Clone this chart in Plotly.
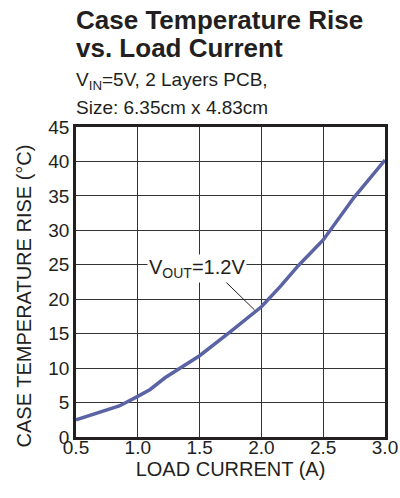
import plotly.graph_objects as go

load_current = [0.5, 0.85, 1.0, 1.1, 1.22, 1.36, 1.5, 1.75, 2.0, 2.15, 2.3, 2.5, 2.75, 3.0]
temp_rise = [2.5, 4.5, 5.9, 6.9, 8.6, 10.2, 11.8, 15.3, 18.9, 21.8, 24.9, 28.6, 34.8, 40.2]

x_ticks = [0.5, 1.0, 1.5, 2.0, 2.5, 3.0]
y_ticks = [0, 5, 10, 15, 20, 25, 30, 35, 40, 45]

FONT = "Arial, Liberation Sans, sans-serif"
TXT = "#231f20"

fig = go.Figure()
fig.add_trace(go.Scatter(x=load_current, y=temp_rise, mode="lines",
                         line=dict(color="#5a63a3", width=3.5),
                         showlegend=False, hoverinfo="skip"))

label_pos = (1.48, 24.4)
leader = (1.685, 22.97, 1.944, 18.46)
fig.add_shape(type="line", xref="x", yref="y", x0=leader[0], y0=leader[1], x1=leader[2], y1=leader[3],
              line=dict(color=TXT, width=1))
fig.add_annotation(x=label_pos[0], y=label_pos[1], xref="x", yref="y", text="V<sub>OUT</sub>=1.2V",
                   showarrow=False, bgcolor="white", font=dict(family=FONT, size=20, color=TXT),
                   borderpad=1)

def ann(text, y, size, bold=False):
    fig.add_annotation(x=-0.006, y=y, xref="paper", yref="paper", xanchor="left", yanchor="middle",
                       text=f"<b>{text}</b>" if bold else text, showarrow=False,
                       font=dict(family=FONT, size=size, color=TXT))

ann("Case Temperature Rise", 1.345, 26, True)
ann("vs. Load Current", 1.255, 26, True)
ann("V<sub>IN</sub>=5V, 2 Layers PCB,", 1.150, 19)
ann("Size: 6.35cm x 4.83cm", 1.062, 19)

# y-axis title placed as rotated text
fig.add_annotation(x=-0.170, y=0.455, xref="paper", yref="paper", xanchor="center", yanchor="middle",
                   text="CASE TEMPERATURE RISE (°C)", textangle=-90, showarrow=False,
                   font=dict(family=FONT, size=20, color=TXT))

axis_common = dict(showgrid=True, gridcolor="#333333", gridwidth=1, showline=True, linecolor="#231f20",
                   linewidth=2.5, mirror=True, ticks="", zeroline=False, automargin=False,
                   tickfont=dict(family=FONT, size=19, color=TXT))

fig.update_xaxes(range=[0.5, 3.0], tickvals=x_ticks, ticktext=[f"{v:.1f}" for v in x_ticks],
                 ticklabelstandoff=-9,
                 title=dict(text="LOAD CURRENT (A)", font=dict(family=FONT, size=20, color=TXT), standoff=2),
                 **axis_common)
fig.update_yaxes(range=[0, 45], tickvals=y_ticks, **axis_common)

fig.update_layout(width=400, height=498, margin=dict(l=76, r=15, t=127, b=61),
                  plot_bgcolor="white", paper_bgcolor="white")
fig.write_html("out.html", config={"displayModeBar": False},
               post_script="document.body.style.margin='0';document.body.style.overflow='hidden';")
